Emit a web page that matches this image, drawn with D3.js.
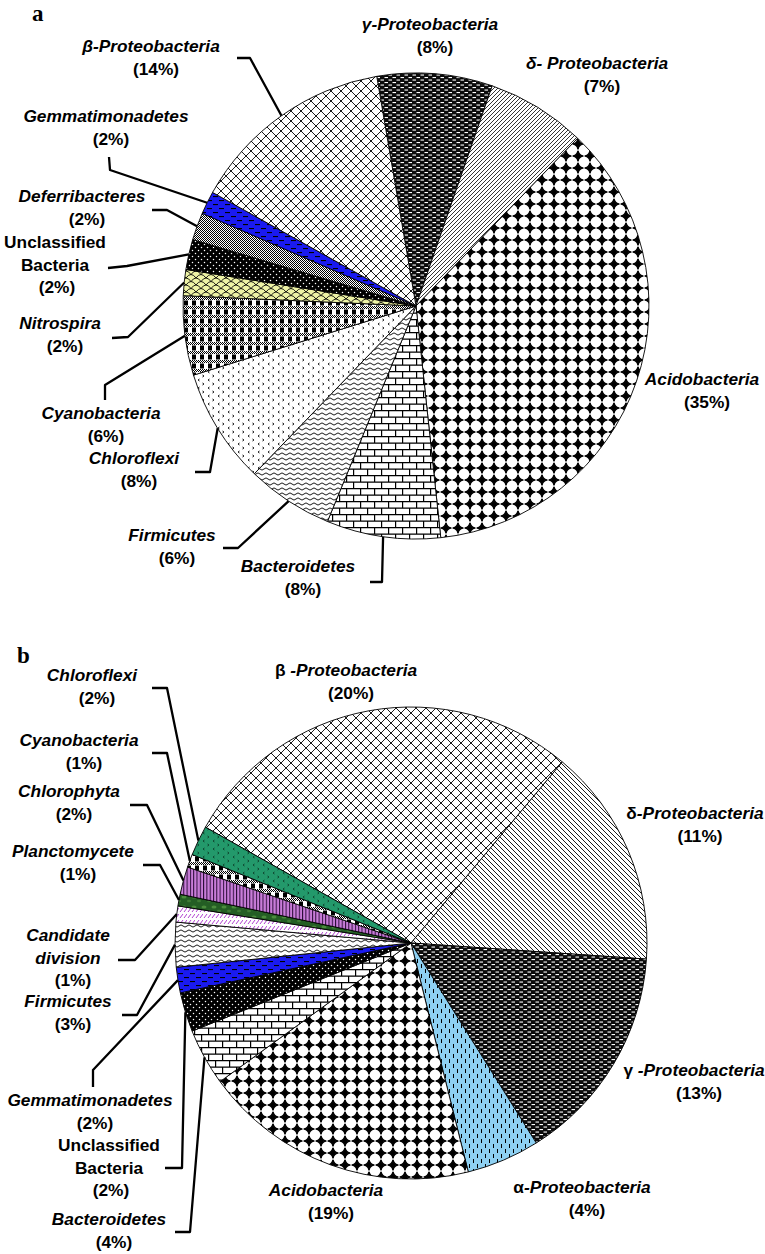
<!DOCTYPE html>
<html><head><meta charset="utf-8">
<script src="https://cdn.jsdelivr.net/npm/d3@7"></script>
<style>
html,body{margin:0;padding:0;background:#fff;}
svg{display:block;}
text{font-family:"Liberation Sans",Arial,Helvetica,sans-serif;font-weight:bold;font-size:17.3px;fill:#000;}
text.panel{font-family:"Liberation Serif","Times New Roman",serif;font-size:23px;}
</style></head><body>
<svg id="chart" width="765" height="1254"></svg>
<script>
// ---------- Panel a data (clockwise from the top) ----------
const namesA = ["γ-Proteobacteria","δ- Proteobacteria","Acidobacteria","Bacteroidetes","Firmicutes","Chloroflexi","Cyanobacteria","Nitrospira","Unclassified\nBacteria","Deferribacteres","Gemmatimonadetes","β-Proteobacteria"];
const labelPctA = [8,7,35,8,6,8,6,2,2,2,2,14];
const sliceShareA = [8.0,6.9,36.1,7.9,6.0,8.0,5.5,1.8,2.1,1.9,1.6,14.2];

// ---------- Panel b data (clockwise from β) ----------
const namesB = ["β -Proteobacteria","δ-Proteobacteria","γ -Proteobacteria","α-Proteobacteria","Acidobacteria","Bacteroidetes","Unclassified\nBacteria","Gemmatimonadetes","Firmicutes","Candidate\ndivision","Planctomycete","Chlorophyta","Cyanobacteria","Chloroflexi"];
const labelPctB = [20,11,13,4,19,4,2,2,3,1,1,2,1,2];
const sliceShareB = [27.9,15.0,15.0,5.0,18.9,3.9,2.7,1.75,3.05,1.1,0.8,1.9,0.9,2.05];

// ---------- styles / layout (not data) ----------
const fillA = {"γ-Proteobacteria":"darkdash","δ- Proteobacteria":"diagFwd","Acidobacteria":"diamonds","Bacteroidetes":"bricks","Firmicutes":"waves","Chloroflexi":"divots","Cyanobacteria":"plaid","Nitrospira":"scales","Unclassified\nBacteria":"blackdots","Deferribacteres":"grayck","Gemmatimonadetes":"bluedash","β-Proteobacteria":"cross"};
const fillB = {"β -Proteobacteria":"cross","δ-Proteobacteria":"diagBack","γ -Proteobacteria":"darkdash","α-Proteobacteria":"bluevdash","Acidobacteria":"diamonds","Bacteroidetes":"bricks","Unclassified\nBacteria":"blackdots","Gemmatimonadetes":"bluedash","Firmicutes":"waves","Candidate\ndivision":"purpdash","Planctomycete":"darkgreen","Chlorophyta":"purplestripe","Cyanobacteria":"plaid","Chloroflexi":"greendivots"};

const layoutA = {
 "γ-Proteobacteria":{x:430,y:30},
 "δ- Proteobacteria":{x:597,y:69},
 "Acidobacteria":{x:702,y:385},
 "Bacteroidetes":{x:298,y:572,leader:[[370,582],[382,582]]},
 "Firmicutes":{x:172,y:541,leader:[[223,548],[238,548]]},
 "Chloroflexi":{x:134,y:464,leader:[[195,472],[210,472]]},
 "Cyanobacteria":{x:101,y:419,leader:[[105,400],[105,385]]},
 "Nitrospira":{x:60,y:329,leader:[[112,338],[128,337]]},
 "Unclassified\nBacteria":{x:55,y:248,leader:[[108,268],[127,266]]},
 "Deferribacteres":{x:82,y:202,leader:[[152,210],[167,210]]},
 "Gemmatimonadetes":{x:106,y:122,leader:[[109,157],[110,170]]},
 "β-Proteobacteria":{x:151,y:52,leader:[[237,58],[250,58]]}
};
const layoutB = {
 "β -Proteobacteria":{x:346,y:676},
 "δ-Proteobacteria":{x:695,y:819},
 "γ -Proteobacteria":{x:694,y:1076},
 "α-Proteobacteria":{x:582,y:1193},
 "Acidobacteria":{x:326,y:1196},
 "Bacteroidetes":{x:109,y:1225,leader:[[175,1232],[190,1232]]},
 "Unclassified\nBacteria":{x:109,y:1151,leader:[[165,1168],[182,1168]]},
 "Gemmatimonadetes":{x:90,y:1106,leader:[[93,1087],[93,1070]]},
 "Firmicutes":{x:68,y:1007,leader:[[122,1015],[137,1015]]},
 "Candidate\ndivision":{x:68,y:941,leader:[[118,960],[135,960]]},
 "Planctomycete":{x:73,y:857,leader:[[143,865],[160,865]]},
 "Chlorophyta":{x:69,y:797,leader:[[130,805],[147,805]]},
 "Cyanobacteria":{x:79,y:746,leader:[[152,753],[167,753]]},
 "Chloroflexi":{x:92,y:681,leader:[[152,688],[167,688]]}
};

const svg = d3.select("#chart");
const defs = svg.append("defs");
function pat(id,w,h,bg,draw){
  const p = defs.append("pattern").attr("id",id).attr("patternUnits","userSpaceOnUse").attr("width",w).attr("height",h);
  if(bg) p.append("rect").attr("width",w).attr("height",h).attr("fill",bg);
  draw(p);
}
const stroke = (p,d,c,w)=>p.append("path").attr("d",d).attr("fill","none").attr("stroke",c||"#000").attr("stroke-width",w||1);
pat("cross",10,10,"#fff",p=>stroke(p,"M-2,-2L12,12M12,-2L-2,12",null,0.9));
pat("darkdash",8,5,"#0c0c0c",p=>{p.append("rect").attr("x",0.5).attr("y",1).attr("width",3.5).attr("height",1.1).attr("fill","#fff");p.append("rect").attr("x",4.5).attr("y",3.5).attr("width",3.5).attr("height",1.1).attr("fill","#fff");});
pat("diagFwd",4,4,"#fff",p=>stroke(p,"M-1,5L5,-1M-1,1L1,-1M3,5L5,3",null,0.8));
pat("diagBack",5,5,"#fff",p=>stroke(p,"M-1,-1L6,6M-1,4L1,6M4,-1L6,1",null,0.9));
pat("diamonds",12,12,"#fff",p=>p.append("path").attr("d","M6,1.2Q6.8,5.2 10.8,6Q6.8,6.8 6,10.8Q5.2,6.8 1.2,6Q5.2,5.2 6,1.2Z").attr("fill","#000").attr("stroke","#000").attr("stroke-width",1.6).attr("stroke-linejoin","round"));
pat("bricks",14,13,"#fff",p=>stroke(p,"M0,0.6H14M0,7.1H14M0.6,0.6V7.1M7.6,7.1V13",null,1.2));
pat("waves",8,5,"#fff",p=>stroke(p,"M0,3Q2,0.8 4,3T8,3",null,0.9));
pat("divots",10,8,"#fff",p=>stroke(p,"M3.5,1L2,2L3.5,3M6.5,5L8,6L6.5,7",null,0.9));
pat("greendivots",10,8,"#23996b",p=>stroke(p,"M3.5,1L2,2L3.5,3M6.5,5L8,6L6.5,7","#0b3b28",0.9));
pat("plaid",8,9,"#fff",p=>{
  [[0,0],[2,0],[4,0],[6,0],[1,1],[3,1],[5,1],[7,1],[0,2],[2,2],[4,2],[6,2]].forEach(([x,y])=>p.append("rect").attr("x",x).attr("y",y).attr("width",1).attr("height",1).attr("fill","#000"));
  p.append("rect").attr("x",0).attr("y",3.5).attr("width",4).attr("height",5).attr("fill","#000");
});
pat("scales",10,7,"#eef3a6",p=>stroke(p,"M0,7Q5,0 10,7M-5,3.5Q0,-3.5 5,3.5M5,3.5Q10,-3.5 15,3.5",null,0.9));
pat("blackdots",6,6,"#000",p=>{p.append("circle").attr("cx",1.5).attr("cy",1.5).attr("r",0.75).attr("fill","#fff");p.append("circle").attr("cx",4.5).attr("cy",4.5).attr("r",0.75).attr("fill","#fff");});
pat("grayck",2,2,"#fff",p=>{p.append("rect").attr("width",1).attr("height",1).attr("fill","#000");p.append("rect").attr("x",1).attr("y",1).attr("width",1).attr("height",1).attr("fill","#000");});
pat("bluedash",12,8,"#1a1af0",p=>{p.append("rect").attr("x",1).attr("y",2).attr("width",5).attr("height",1.1).attr("fill","#000");p.append("rect").attr("x",7).attr("y",6).attr("width",5).attr("height",1.1).attr("fill","#000");});
pat("bluevdash",8,10,"#8ed0f2",p=>{p.append("rect").attr("x",2).attr("y",1).attr("width",1).attr("height",4).attr("fill","#000");p.append("rect").attr("x",6).attr("y",6).attr("width",1).attr("height",4).attr("fill","#000");});
pat("purpdash",8,6,"#fff",p=>stroke(p,"M1,5L4,1M5,5L8,1","#b040d0",1));
pat("darkgreen",10,10,"#245e24",p=>{p.append("ellipse").attr("cx",3).attr("cy",4).attr("rx",2.5).attr("ry",1.5).attr("fill","#4a8c3c");p.append("ellipse").attr("cx",8).attr("cy",8).attr("rx",2).attr("ry",1.2).attr("fill","#3d7a34");});
pat("purplestripe",3.3,3,"#c87cd8",p=>p.append("rect").attr("width",1).attr("height",3).attr("fill","#2a0c38"));

const LH = 22.5;
function drawPie(names, shares, pcts, fills, layout, cx, cy, R, startDeg, greekUpright){
  const g = svg.append("g");
  const pie = d3.pie().sort(null).value(d=>d.v)
    .startAngle(startDeg*Math.PI/180).endAngle(startDeg*Math.PI/180+2*Math.PI);
  const data = names.map((n,i)=>({name:n,v:shares[i],pct:pcts[i]}));
  const arcs = pie(data);
  const arc = d3.arc().innerRadius(0).outerRadius(R);
  const rim = d3.arc().innerRadius(R).outerRadius(R);
  const pg = g.append("g").attr("transform",`translate(${cx},${cy})`);
  pg.selectAll("path.slice").data(arcs).join("path").attr("class","slice")
    .attr("d",arc).attr("fill",d=>`url(#${fills[d.data.name]})`)
    .attr("stroke","#000").attr("stroke-width",0.9).attr("stroke-linejoin","round");
  arcs.forEach(d=>{
    const lay = layout[d.data.name];
    if(lay.leader){
      const c = rim.centroid(d);
      const pts = lay.leader.concat([[cx+c[0],cy+c[1]]]);
      g.append("path").attr("d",d3.line()(pts)).attr("fill","none").attr("stroke","#000").attr("stroke-width",2.3).attr("stroke-linejoin","round");
    }
  });
  arcs.forEach(d=>{
    const lay = layout[d.data.name];
    const lines = d.data.name.split("\n");
    const upright = d.data.name.startsWith("Unclassified");
    lines.forEach((ln,i)=>{
      const t = g.append("text").attr("x",lay.x).attr("y",lay.y+i*LH).attr("text-anchor","middle");
      if(upright){ t.text(ln); return; }
      const first = ln.charAt(0);
      if(greekUpright && /[αβγδ]/.test(first)){
        t.append("tspan").text(first);
        t.append("tspan").attr("font-style","italic").text(ln.slice(1));
      } else {
        t.attr("font-style","italic").text(ln);
      }
    });
    g.append("text").attr("x",lay.x+(upright?2:5)).attr("y",lay.y+lines.length*LH).attr("text-anchor","middle").text(`(${d.data.pct}%)`);
  });
}

drawPie(namesA, sliceShareA, labelPctA, fillA, layoutA, 416, 306, 233, -9.7, false);
drawPie(namesB, sliceShareB, labelPctB, fillB, layoutB, 411, 943, 236, -60.6, true);

svg.append("text").attr("class","panel").attr("x",32).attr("y",21).text("a");
svg.append("text").attr("class","panel").attr("x",17).attr("y",663).text("b");
</script>
</body></html>
